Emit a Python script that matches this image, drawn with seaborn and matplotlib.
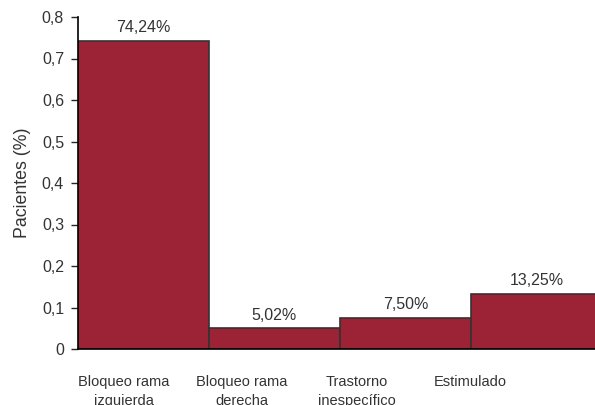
import matplotlib
matplotlib.use("Agg")
import matplotlib.pyplot as plt
import seaborn as sns
import pandas as pd
from matplotlib.ticker import FuncFormatter

# Data
categories = ["Bloqueo rama\nizquierda", "Bloqueo rama\nderecha", "Trastorno\ninespecífico", "Estimulado"]
values = [0.7424, 0.0502, 0.0750, 0.1325]
labels = ["74,24%", "5,02%", "7,50%", "13,25%"]

df = pd.DataFrame({"cat": categories, "val": values})

sns.set_style("white")
plt.rcParams["font.family"] = ["Liberation Sans", "DejaVu Sans"]

fig = plt.figure(figsize=(5.95, 4.05), dpi=100)
ax = fig.add_axes([78 / 595, 56 / 405, 517 / 595, 332 / 405])

sns.barplot(data=df, x="cat", y="val", color="#9b2335", saturation=1,
            width=1, edgecolor="#333333", linewidth=1.2, ax=ax)

for i, (v, t) in enumerate(zip(values, labels)):
    ax.annotate(t, (i, v), xytext=(0, 4), textcoords="offset points",
                ha="center", va="bottom", fontsize=11.5, color="#333333")

ax.set_xlim(-0.5, -0.5 + 517 / 131)
ax.set_ylim(0, 0.8)
ax.set_yticks([0, 0.1, 0.2, 0.3, 0.4, 0.5, 0.6, 0.7, 0.8])
ax.yaxis.set_major_formatter(FuncFormatter(lambda y, p: "0" if y == 0 else f"{y:.1f}".replace(".", ",")))

# category labels in the original sit a bit left of the bar centres
label_px = [124, 242, 357, 470]
ax.set_xticks([(p - 78) / 131 - 0.5 for p in label_px])
ax.set_xticklabels(categories, linespacing=1.45)
ax.set_xlabel("")
ax.set_ylabel("Pacientes (%)", fontsize=12.8, color="#333333", va="center")
ax.yaxis.set_label_coords(-0.108, 0.5)

for s in ["top", "right"]:
    ax.spines[s].set_visible(False)
for s in ["left", "bottom"]:
    ax.spines[s].set_color("black")
    ax.spines[s].set_linewidth(1.2)

ax.tick_params(axis="y", left=True, length=5, width=1, direction="out", labelsize=11.5, labelcolor="#333333", pad=5)
ax.tick_params(axis="x", bottom=False, labelsize=10.5, labelcolor="#333333", pad=15)
for lbl in ax.get_xticklabels():
    lbl.set_verticalalignment("top")

fig.savefig("out.png", dpi=100)
